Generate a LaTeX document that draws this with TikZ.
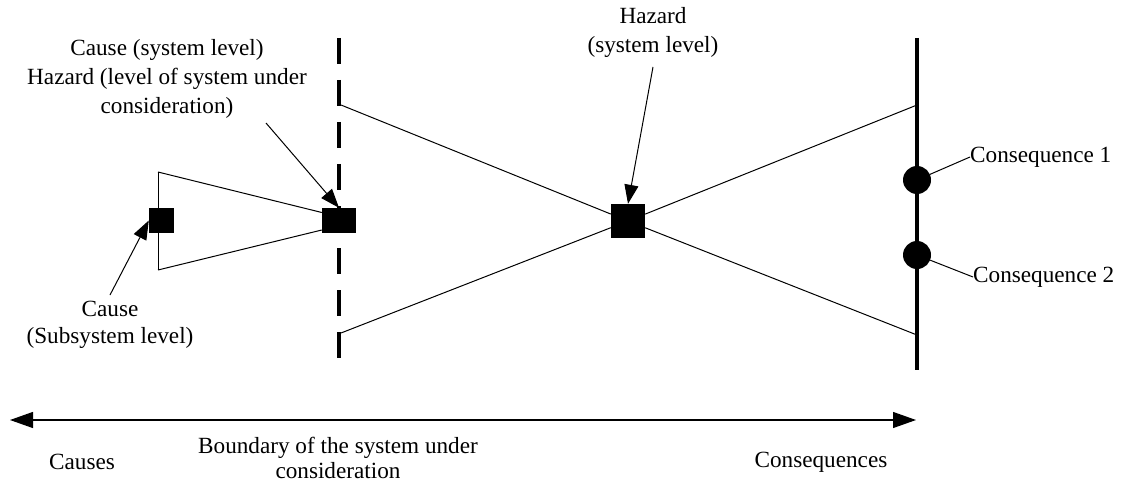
\documentclass[tikz,border=0pt]{standalone}
\usepackage{fontspec}
\setmainfont{Liberation Serif}
\usetikzlibrary{arrows.meta}
\begin{document}
\begin{tikzpicture}[x=1pt,y=-1pt,
  thin line/.style={line width=1pt},
  thick line/.style={line width=3.5pt},
  blk/.style={fill=black,draw=none,inner sep=0pt,rectangle},
  dot/.style={fill=black,draw=none,inner sep=0pt,circle,minimum size=28pt},
  lbl/.style={align=center,inner sep=0pt,font=\fontsize{23.2}{29}\selectfont},
  pointer/.style={thin line,-{Triangle[length=19pt,width=14pt]}},
  span/.style={line width=1.2pt,{Triangle[length=23pt,width=16pt]}-{Triangle[length=23pt,width=16pt]}}]
\useasboundingbox (0,0) rectangle (1122,484);

% system boundary (dashed) and consequence line (solid)
\coordinate (bt) at (339,38);
\coordinate (bb) at (339,358);
\coordinate (ct) at (917,38);
\coordinate (cb) at (917,370);
\draw[thick line,dash pattern=on 26pt off 16pt] (bt) -- (bb);
\draw[thick line] (ct) -- (cb);

% bow-tie corner points
\coordinate (bu) at (341,105);
\coordinate (bl) at (341,333);
\coordinate (cu) at (917,105);
\coordinate (cl) at (917,335);
\coordinate (su) at (158,172);
\coordinate (sl) at (158,270);

% hazard and cause squares
\node[blk,minimum width=25pt,minimum height=25pt] (c1) at (161.5,220.5) {};
\node[blk,minimum width=34pt,minimum height=25pt] (c2) at (339,220.5) {};
\node[blk,minimum width=34pt,minimum height=34pt] (hz) at (628,221) {};

% consequence dots
\node[dot] (k1) at (917,180) {};
\node[dot] (k2) at (917,255) {};

% subsystem wedge
\draw[thin line] (su) -- (sl);
\draw[thin line] (su) -- ([yshift=8pt]c2.west);
\draw[thin line] (sl) -- ([yshift=-9.5pt]c2.west);

% bow-tie
\draw[thin line] (bu) -- (hz);
\draw[thin line] (bl) -- (hz);
\draw[thin line] (hz) -- (cu);
\draw[thin line] (hz) -- (cl);

% labels
\node[lbl] (lhz) at (653,32) {Hazard\\(system level)};
\node[lbl] (lc2) at (167,79) {Cause (system level)\\Hazard (level of system under\\consideration)};
\node[lbl,font=\fontsize{23.2}{27}\selectfont] (lc1) at (110,325) {Cause\\(Subsystem level)};
\node[lbl,anchor=west] (lk1) at (970,157) {Consequence 1};
\node[lbl,anchor=west] (lk2) at (973,277) {Consequence 2};

% pointers
\coordinate (phz) at (653,67);
\coordinate (pc2) at (266,123);
\coordinate (pc1) at (110,295);
\draw[pointer] (phz) -- (hz.north);
\draw[pointer] (pc2) -- (c2.north);
\draw[pointer] (pc1) -- (c1.west);
\draw[thin line] (k1) -- (lk1.west);
\draw[thin line] (k2) -- (lk2.west);

% bottom scale
\coordinate (sa) at (10,420);
\coordinate (sb) at (916,420);
\draw[span] (sa) -- (sb);
\node[lbl] (lcs) at (82,462) {Causes};
\node[lbl,font=\fontsize{23.2}{25}\selectfont] (lbd) at (338,458) {Boundary of the system under\\consideration};
\node[lbl] (lcq) at (821,462) {Consequences};
\end{tikzpicture}
\end{document}
